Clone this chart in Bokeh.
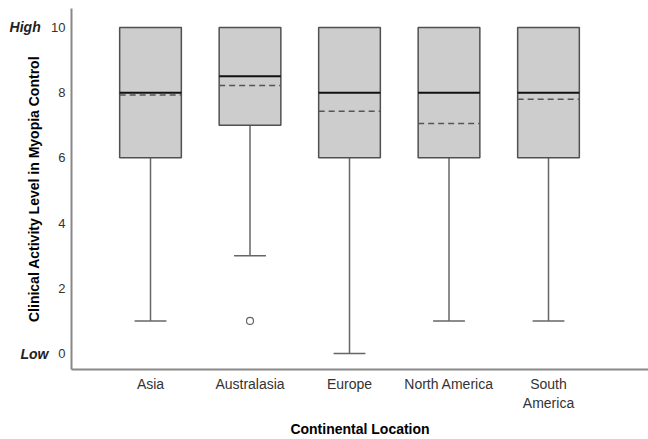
from bokeh.plotting import figure
from bokeh.models import FixedTicker, LinearAxis, ColumnDataSource
from bokeh.embed import file_html
from bokeh.resources import INLINE

categories = ["Asia", "Australasia", "Europe", "North America", "South\nAmerica"]
whisker_low = [1, 3, 0, 1, 1]
q1 = [6, 7, 6, 6, 6]
median = [8, 8.5, 8, 8, 8]
q3 = [10, 10, 10, 10, 10]
whisker_high = [10, 10, 10, 10, 10]
mean = [7.93, 8.22, 7.43, 7.05, 7.8]
outlier_cat = [2]
outlier_val = [1]
y_ticks = [0, 2, 4, 6, 8, 10]
level_ticks = [0, 10]
level_names = ["Low", "High\u00a0\u00a0"]

xs = list(range(1, len(categories) + 1))
box_w = 0.62
cap_w = 0.32

src = ColumnDataSource(dict(
    x=xs, left=[x - box_w / 2 for x in xs], right=[x + box_w / 2 for x in xs],
    cl=[x - cap_w / 2 for x in xs], cr=[x + cap_w / 2 for x in xs],
    wl=whisker_low, q1=q1, med=median, q3=q3, wh=whisker_high, mean=mean,
))

p = figure(width=648, height=439, output_backend="svg", toolbar_location=None,
           x_range=(0.206, 6.005), y_range=(-0.49, 10.58),
           min_border_left=71, min_border_right=0, min_border_top=8, min_border_bottom=70)
p.outline_line_color = None
p.grid.grid_line_color = None
p.background_fill_color = "white"

# whiskers
p.segment(x0="x", y0="wl", x1="x", y1="q1", source=src, line_color="#666666", line_width=1.5)
p.segment(x0="x", y0="q3", x1="x", y1="wh", source=src, line_color="#666666", line_width=1.5)
p.segment(x0="cl", y0="wl", x1="cr", y1="wl", source=src, line_color="#666666", line_width=1.5)
# boxes
p.quad(left="left", right="right", bottom="q1", top="q3", source=src,
       fill_color="#cdcdcd", line_color="#505050", line_width=1.5)
# medians
p.segment(x0="left", y0="med", x1="right", y1="med", source=src, line_color="#111111", line_width=2)
# means
p.segment(x0="left", y0="mean", x1="right", y1="mean", source=src, line_color="#555555",
          line_width=1.5, line_dash="6 4")
# outliers
p.scatter(x=outlier_cat, y=outlier_val, size=7, fill_color="white", line_color="#666666", line_width=1.2)

# axes
p.xaxis.ticker = FixedTicker(ticks=xs)
p.xaxis.major_label_overrides = {x: c for x, c in zip(xs, categories)}
p.yaxis.ticker = FixedTicker(ticks=y_ticks)
for ax in (p.xaxis[0], p.yaxis[0]):
    ax.axis_line_color = "#888888"
    ax.axis_line_width = 2
    ax.major_tick_line_color = None
    ax.minor_tick_line_color = None
    ax.major_tick_out = 0
    ax.major_tick_in = 0
    ax.major_label_text_font = "Liberation Sans"
    ax.major_label_text_color = "#333333"
    ax.axis_label_text_font = "Liberation Sans"
    ax.axis_label_text_font_style = "bold"
    ax.axis_label_text_font_size = "14px"
    ax.axis_label_text_color = "#000000"
p.yaxis.major_label_text_font_size = "13px"
p.xaxis.major_label_text_font_size = "14px"
p.yaxis.major_label_standoff = 6
p.xaxis.major_label_standoff = 6
p.yaxis.axis_label = "Clinical Activity Level in Myopia Control"
p.xaxis.axis_label = "Continental Location"
p.yaxis.axis_label_standoff = 6
p.xaxis.axis_label_standoff = 7

# High / Low descriptors beside the 10 and 0 ticks
lvl = LinearAxis(ticker=FixedTicker(ticks=level_ticks),
                 major_label_overrides={t: n for t, n in zip(level_ticks, level_names)})
lvl.axis_line_color = None
lvl.major_tick_line_color = None
lvl.minor_tick_line_color = None
lvl.major_tick_out = 0
lvl.major_tick_in = 0
lvl.major_label_standoff = -25
lvl.major_label_text_font = "Liberation Sans"
lvl.major_label_text_font_style = "bold italic"
lvl.major_label_text_font_size = "14px"
lvl.major_label_text_color = "#222222"
p.add_layout(lvl, "left")

open("out.html", "w").write(file_html(p, INLINE))
